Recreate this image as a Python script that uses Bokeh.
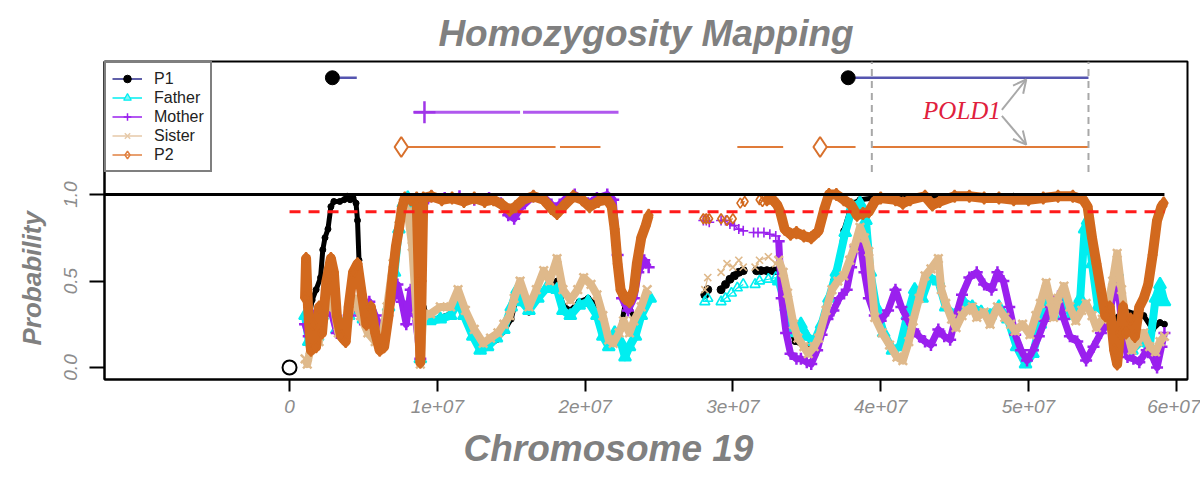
import numpy as np
from bokeh.plotting import figure
from bokeh.models import Range1d, FixedTicker, Label, Arrow, OpenHead, Legend, LegendItem, Title
from bokeh.embed import file_html
from bokeh.resources import INLINE

MB = 1e6

# ---------------- axes ----------------
x_tick_pos_mb = [0, 10, 20, 30, 40, 50, 60]
x_tick_labels = ["0", "1e+07", "2e+07", "3e+07", "4e+07", "5e+07", "6e+07"]
y_tick_pos = [0.0, 0.5, 1.0]
y_tick_labels = ["0.0", "0.5", "1.0"]

series_names = ["P1", "Father", "Mother", "Sister", "P2"]

# ---------------- P1 ----------------
p1_dense_pos = [1.05, 1.3, 1.53, 1.8, 2.1, 2.25, 2.4, 2.6, 2.8, 3.0, 3.4, 3.7, 3.9, 4.1, 4.3, 4.5, 4.6, 4.7, 4.9, 5.3,
                5.8, 6.3, 6.8, 7.3, 7.6, 7.9, 8.3, 8.6, 8.85, 9.05, 9.5, 10.2, 10.9, 11.4, 11.8, 12.4, 12.9, 13.4, 14.0,
                14.5, 15.0, 15.4, 15.7, 16.2, 16.8, 17.4, 18.1, 18.5, 19.0, 19.6, 20.2, 20.8, 21.2, 21.6, 22.0, 22.4,
                22.7, 23.0, 23.4, 23.8, 24.3, None,
                33.1, 33.6, 34.2, 35.0, 35.8, 36.4, 36.8, 37.2, 37.5, 37.9, 38.2, 38.6, 39.5, 41.0, 43.0, 45.0, 47.0,
                49.0, 51.0, 53.0, 53.8, 54.1, 54.4, 55.0, 55.8, 56.5, 57.2, 57.8, 58.4, 58.9, 59.2]
p1_dense_val = [0.30, 0.28, 0.39, 0.45, 0.52, 0.68, 0.75, 0.80, 0.93, 0.96, 0.96, 0.97, 0.99, 0.97, 0.98, 0.95, 0.85,
                0.62, 0.45, 0.30, 0.22, 0.18, 0.40, 0.70, 0.88, 0.95, 0.90, 0.60, 0.05, 0.35, 0.27, 0.29, 0.31, 0.40,
                0.31, 0.19, 0.10, 0.12, 0.16, 0.21, 0.28, 0.42, 0.46, 0.32, 0.40, 0.46, 0.50, 0.36, 0.33, 0.38, 0.40,
                0.36, 0.24, 0.14, 0.18, 0.22, 0.36, 0.34, 0.28, 0.32, 0.40, None,
                0.50, 0.30, 0.15, 0.12, 0.20, 0.38, 0.50, 0.62, 0.79, 0.90, 0.95, 0.97, 0.98, 0.98, 0.99, 0.99, 0.99,
                0.99, 0.99, 0.98, 0.97, 0.90, 0.55, 0.40, 0.28, 0.33, 0.31, 0.30, 0.22, 0.26, 0.25]
p1_sparse_pos = [28.1, 28.3, None, 29.2, 29.5, 29.8, 30.1, 30.4, 30.7, None, 31.6, 31.9, 32.3, 32.7, 33.0]
p1_sparse_val = [0.42, 0.45, None, 0.45, 0.48, 0.51, 0.53, 0.55, 0.56, None, 0.56, 0.56, 0.56, 0.56, 0.56]

# ---------------- Father ----------------
fa_dense_pos = [1.05, 1.3, 1.6, 1.9, 2.2, 2.5, 2.9, 3.2, 3.6, 4.0, 4.5, 5.0, 5.6, 6.2, 6.7, 7.1, 7.4, 7.7, 8.0, 8.4,
                8.7, 8.85, 9.0, 9.5, 10.2, 10.9, 11.4, 11.8, 12.4, 12.9, 13.4, 14.0, 14.5, 15.0, 15.4, 15.7, 16.2, 16.8,
                17.4, 18.1, 18.5, 19.0, 19.6, 20.2, 20.8, 21.2, 21.6, 22.0, 22.4, 22.7, 23.0, 23.4, 23.8, 24.4, None,
                33.1, 33.6, 34.1, 34.6, 35.0, 35.5, 36.0, 36.5, 37.0, 37.6, 38.1, 38.6, 39.0, 39.3, 39.7, 40.2, 40.8,
                41.3, 41.8, 42.3, 42.8, 43.3, 43.9, 44.4, 45.0, 45.6, 46.2, 46.8, 47.4, 48.0, 48.6, 49.2, 49.8, 50.3,
                50.8, 51.2, 51.7, 52.3, 52.9, 53.5, 53.8, 54.0, 54.3, 54.7, 55.3, 56.0, 56.5, 57.0, 57.6, 58.2, 58.6,
                58.9, 59.2]
fa_dense_val = [0.30, 0.15, 0.25, 0.18, 0.30, 0.35, 0.32, 0.22, 0.20, 0.30, 0.35, 0.28, 0.20, 0.18, 0.35, 0.55, 0.80,
                0.95, 0.98, 0.90, 0.40, 0.05, 0.30, 0.27, 0.28, 0.30, 0.38, 0.30, 0.18, 0.10, 0.12, 0.17, 0.22, 0.35,
                0.45, 0.38, 0.33, 0.40, 0.46, 0.45, 0.33, 0.30, 0.36, 0.38, 0.30, 0.18, 0.12, 0.20, 0.15, 0.06, 0.12,
                0.18, 0.30, 0.40, None,
                0.50, 0.35, 0.20, 0.25, 0.18, 0.15, 0.25, 0.40, 0.55, 0.78, 0.93, 0.95, 0.85, 0.55, 0.35, 0.20, 0.10,
                0.12, 0.30, 0.45, 0.40, 0.52, 0.50, 0.35, 0.30, 0.38, 0.35, 0.32, 0.30, 0.35, 0.28, 0.12, 0.02, 0.08,
                0.25, 0.40, 0.30, 0.42, 0.30, 0.40, 0.80, 0.85, 0.60, 0.35, 0.30, 0.55, 0.25, 0.10, 0.15, 0.12, 0.40,
                0.48, 0.38]
fa_sparse_pos = [28.1, 28.3, None, 29.2, 29.5, 29.9, 30.3, 30.7, None, 31.5, 31.8, 32.4, 32.9]
fa_sparse_val = [0.38, 0.40, None, 0.38, 0.40, 0.43, 0.46, 0.48, None, 0.48, 0.50, 0.51, 0.52]

# ---------------- Mother ----------------
mo_dense_pos = [1.05, 1.3, 1.6, 1.9, 2.2, 2.5, 2.9, 3.2, 3.6, 4.0, 4.5, 4.8, 5.1, 5.4, 5.8, 6.2, 6.6, 7.0, 7.3, 7.6,
                7.9, 8.2, 8.5, 8.85, 9.05, 9.6, 10.5, 11.5, 12.5, 13.5, 14.3, 14.8, 15.2, 15.6, 16.5, 17.4, 18.0, 18.6,
                19.3, 20.2, 20.8, 21.5, 21.9, 22.2, 22.5, 22.9, 23.3, 23.6, 24.0, 24.3, None,
                33.1, 33.3, 33.6, 33.9, 34.3, 34.6, 35.0, 35.3, 35.7, 36.0, 36.4, 36.8, 37.2, 37.7, 38.0, 38.3, 38.6,
                38.9, 39.2, 39.6, 40.0, 40.5, 41.0, 41.4, 41.8, 42.2, 42.6, 43.0, 43.4, 43.9, 44.3, 44.7, 45.1, 45.5,
                46.0, 46.5, 47.0, 47.5, 47.9, 48.3, 48.7, 49.1, 49.5, 49.9, 50.3, 50.7, 51.1, 51.5, 52.0, 52.4, 52.8,
                53.3, 53.9, 54.4, 54.9, 55.3, 55.7, 56.0, 56.3, 56.7, 57.1, 57.5, 58.0, 58.4, 58.7, 59.0, 59.2]
mo_dense_val = [0.25, 0.18, 0.30, 0.20, 0.35, 0.40, 0.30, 0.20, 0.18, 0.30, 0.38, 0.30, 0.25, 0.38, 0.30, 0.22, 0.30,
                0.40, 0.48, 0.38, 0.25, 0.45, 0.30, 0.05, 0.95, 0.99, 0.98, 0.99, 0.97, 0.98, 0.95, 0.88, 0.86, 0.92,
                0.99, 0.97, 0.92, 0.97, 1.00, 0.95, 0.98, 1.00, 0.97, 0.65, 0.40, 0.33, 0.40, 0.55, 0.62, 0.58, None,
                0.73, 0.40, 0.20, 0.08, 0.05, 0.05, 0.03, 0.02, 0.10, 0.19, 0.28, 0.33, 0.40, 0.45, 0.58, 0.70, 0.73,
                0.55, 0.40, 0.30, 0.27, 0.33, 0.45, 0.35, 0.28, 0.22, 0.18, 0.15, 0.13, 0.22, 0.18, 0.16, 0.30, 0.42,
                0.52, 0.55, 0.48, 0.45, 0.55, 0.50, 0.35, 0.19, 0.10, 0.04, 0.10, 0.18, 0.27, 0.35, 0.41, 0.28, 0.18,
                0.15, 0.04, 0.12, 0.20, 0.25, 0.40, 0.53, 0.25, 0.06, 0.05, 0.03, 0.10, 0.06, 0.00, 0.12, 0.20]
mo_sparse_pos = [28.0, 28.2, 28.4, None, 29.2, 29.5, 29.8, 30.1, 30.4, 30.7, None, 31.4, 31.7, 32.1, 32.5, 32.9]
mo_sparse_val = [0.85, 0.85, 0.84, None, 0.85, 0.85, 0.83, 0.82, 0.80, 0.79, None, 0.78, 0.78, 0.78, 0.77, 0.76]

# ---------------- Sister ----------------
si_dense_pos = [1.05, 1.2, 1.4, 1.7, 2.0, 2.3, 2.7, 3.0, 3.3, 3.7, 4.0, 4.4, 4.8, 5.3, 5.8, 6.2, 6.6, 7.0, 7.4, 7.7,
                8.0, 8.3, 8.6, 8.85, 9.05, 9.54, 10.2, 10.9, 11.4, 11.9, 12.5, 13.1, 13.6, 14.1, 14.5, 14.9, 15.2, 15.6,
                16.2, 16.7, 17.2, 17.6, 18.1, 18.5, 19.0, 19.5, 19.9, 20.4, 20.8, 21.2, 21.6, 21.9, 22.3, 22.6, 23.0,
                23.3, 23.8, 24.2, None,
                33.1, 33.4, 33.7, 34.1, 34.4, 34.8, 35.1, 35.5, 35.8, 36.3, 36.7, 37.1, 37.5, 37.9, 38.2, 38.6, 38.9,
                39.2, 39.6, 40.1, 40.6, 41.1, 41.5, 41.9, 42.2, 42.6, 43.0, 43.4, 43.9, 44.1, 44.4, 44.8, 45.1, 45.5,
                45.8, 46.2, 46.5, 47.0, 47.4, 47.9, 48.4, 48.8, 49.1, 49.6, 50.1, 50.5, 50.8, 51.2, 51.5, 51.7, 52.0,
                52.4, 52.8, 53.2, 53.6, 53.9, 54.3, 54.6, 55.0, 55.3, 55.7, 56.0, 56.3, 56.7, 57.0, 57.4, 57.8, 58.2,
                58.6, 58.9, 59.2]
si_dense_val = [0.05, 0.02, 0.10, 0.25, 0.15, 0.30, 0.40, 0.35, 0.20, 0.18, 0.30, 0.40, 0.30, 0.20, 0.15, 0.15, 0.35,
                0.60, 0.82, 0.95, 0.90, 0.70, 0.30, 0.02, 0.30, 0.31, 0.35, 0.35, 0.45, 0.33, 0.22, 0.14, 0.17, 0.20,
                0.25, 0.30, 0.40, 0.50, 0.35, 0.45, 0.56, 0.50, 0.63, 0.45, 0.39, 0.45, 0.52, 0.48, 0.42, 0.30, 0.16,
                0.14, 0.20, 0.27, 0.20, 0.27, 0.35, 0.45, None,
                0.62, 0.55, 0.43, 0.25, 0.17, 0.12, 0.08, 0.12, 0.17, 0.33, 0.45, 0.50, 0.53, 0.62, 0.69, 0.81, 0.75,
                0.67, 0.29, 0.20, 0.13, 0.06, 0.04, 0.15, 0.27, 0.40, 0.53, 0.57, 0.63, 0.45, 0.37, 0.28, 0.23, 0.30,
                0.33, 0.35, 0.29, 0.32, 0.25, 0.35, 0.29, 0.25, 0.21, 0.25, 0.19, 0.30, 0.37, 0.49, 0.38, 0.29, 0.40,
                0.47, 0.35, 0.27, 0.33, 0.37, 0.30, 0.23, 0.28, 0.33, 0.50, 0.66, 0.45, 0.20, 0.10, 0.15, 0.20, 0.12,
                0.09, 0.15, 0.18]
si_sparse_pos = [28.1, 28.3, None, 29.2, 29.6, 30.0, 30.4, 30.7, None, 31.5, 31.8, 32.4, 32.9]
si_sparse_val = [0.45, 0.52, None, 0.55, 0.60, 0.58, 0.62, 0.58, None, 0.58, 0.62, 0.64, 0.60]

# ---------------- P2 ----------------
p2_dense_pos = [1.05, 1.12, 1.25, 1.45, 1.6, 1.8, 2.0, 2.2, 2.5, 2.8, 3.0, 3.2, 3.5, 3.8, 4.0, 4.3, 4.6, 4.9, 5.2, 5.5,
                5.8, 6.1, 6.4, 6.7, 7.0, 7.2, 7.4, 7.6, 7.8, 8.2, 8.6, 8.75, 8.85, 8.95, 9.05, 9.6, 10.3, 11.0, 11.8,
                12.5, 13.2, 13.8, 14.4, 14.9, 15.3, 15.8, 16.5, 17.2, 17.7, 18.1, 18.5, 19.2, 19.8, 20.3, 20.9, 21.5,
                21.8, 22.0, 22.2, 22.4, 22.7, 23.0, 23.3, 23.5, 23.8, 24.1, 24.3, None,
                32.3, 32.7, 33.0, 33.2, 33.5, 33.9, 34.3, 34.8, 35.3, 35.8, 36.2, 36.5, 37.0, 37.5, 38.0, 38.4, 38.8,
                39.2, 39.6, 40.0, 41.0, 41.5, 42.0, 43.0, 43.5, 44.0, 45.0, 46.0, 47.0, 48.0, 49.0, 50.0, 51.0, 52.0,
                53.0, 53.7, 54.0, 54.3, 54.6, 54.9, 55.2, 55.5, 55.8, 56.0, 56.2, 56.4, 56.6, 56.9, 57.2, 57.5, 57.8,
                58.1, 58.4, 58.7, 59.0, 59.15]
p2_dense_val = [0.40, 0.63, 0.35, 0.10, 0.25, 0.12, 0.35, 0.20, 0.50, 0.63, 0.55, 0.30, 0.18, 0.15, 0.35, 0.55, 0.60,
                0.42, 0.25, 0.35, 0.20, 0.10, 0.12, 0.30, 0.55, 0.70, 0.80, 0.92, 0.98, 0.97, 0.98, 0.50, 0.03, 0.50,
                0.98, 0.99, 0.97, 0.98, 0.96, 0.98, 0.96, 0.97, 0.94, 0.91, 0.93, 0.97, 0.99, 0.97, 0.92, 0.89, 0.93,
                0.99, 0.97, 0.93, 0.96, 0.97, 0.93, 0.80, 0.60, 0.45, 0.40, 0.38, 0.45, 0.60, 0.75, 0.82, 0.88, None,
                0.97, 0.97, 0.94, 0.90, 0.80, 0.77, 0.78, 0.76, 0.75, 0.79, 0.92, 1.00, 1.00, 0.97, 0.94, 0.88, 0.89,
                0.90, 0.96, 0.98, 0.97, 0.95, 0.97, 0.99, 0.94, 0.96, 0.99, 0.99, 0.98, 0.98, 0.97, 0.97, 0.98, 0.99,
                0.99, 0.97, 0.93, 0.75, 0.60, 0.45, 0.30, 0.35, 0.10, 0.02, 0.20, 0.35, 0.20, 0.28, 0.18, 0.35, 0.40,
                0.48, 0.65, 0.85, 0.93, 0.95]
p2_sparse_pos = [28.0, 28.2, 28.4, None, 29.2, 29.6, 30.0, None, 30.5, 30.8, None, 31.8, 32.0]
p2_sparse_val = [0.86, 0.86, 0.86, None, 0.86, 0.85, 0.86, None, 0.95, 0.96, None, 0.97, 0.96]

# ---------------- homozygous regions (top tracks) ----------------
track_level = {"P1": 1.675, "Mother": 1.475, "P2": 1.275}
p1_reg_start = [2.9, 37.8]
p1_reg_end = [4.55, 54.06]
mo_reg_start = [8.4, 15.8]
mo_reg_end = [15.6, 22.26]
mo_reg_mark = [9.13]
p2_reg_start = [7.56, 18.3, 30.3, 35.9, 39.4]
p2_reg_end = [18.0, 21.04, 33.4, 38.3, 54.06]
p2_reg_mark = [7.56, 35.9]
gene_bounds = [39.4, 54.06]
gene_name = "POLD1"

threshold_hi = 1.0
threshold_lo = 0.9
chrom_end = 59.2
origin_pt = (0.0, 0.0)


def arr(lst, scale=1.0):
    return np.array([np.nan if v is None else v * scale for v in lst], dtype=float)


X0, X1 = -12.52e6, 60.76e6
Y0, Y1 = -0.0694, 1.769

p = figure(width=1200, height=482, output_backend="svg", toolbar_location=None,
           x_range=Range1d(X0, X1), y_range=Range1d(Y0, Y1), title=None,
           min_border_left=104, min_border_right=13, min_border_top=61, min_border_bottom=103)
p.grid.visible = False
p.outline_line_color = "black"
p.outline_line_width = 2
p.background_fill_color = "white"
p.border_fill_color = "white"

# axes
p.xaxis.ticker = FixedTicker(ticks=[t * MB for t in x_tick_pos_mb])
p.xaxis.major_label_overrides = {int(t * MB): lab for t, lab in zip(x_tick_pos_mb, x_tick_labels)}
p.yaxis.ticker = FixedTicker(ticks=y_tick_pos)
p.yaxis.major_label_overrides = {t: lab for t, lab in zip(y_tick_pos, y_tick_labels)}
p.yaxis.major_label_orientation = "vertical"
for ax in (p.xaxis[0], p.yaxis[0]):
    ax.axis_line_width = 2
    ax.axis_line_color = "black"
    ax.major_tick_line_width = 2
    ax.major_tick_line_color = "black"
    ax.major_tick_in = 0
    ax.minor_tick_line_color = None
    ax.major_label_text_font = "Liberation Sans"
    ax.major_label_text_font_style = "italic"
    ax.major_label_text_font_size = "19px"
    ax.major_label_text_color = "#8c8c8c"
p.xaxis.major_tick_out = 12
p.xaxis.major_label_standoff = 8
p.yaxis.major_tick_out = 15
p.yaxis.major_label_standoff = 12

colors = {"P1": "#000000", "Father": "#00eef0", "Mother": "#9a20ee", "Sister": "#dfb98b", "P2": "#d2691e"}

dense = {
    "P1": (p1_dense_pos, p1_dense_val, 5),
    "Father": (fa_dense_pos, fa_dense_val, 8),
    "Mother": (mo_dense_pos, mo_dense_val, 7),
    "Sister": (si_dense_pos, si_dense_val, 8),
    "P2": (p2_dense_pos, p2_dense_val, 10),
}
sparse = {
    "P1": (p1_sparse_pos, p1_sparse_val),
    "Father": (fa_sparse_pos, fa_sparse_val),
    "Mother": (mo_sparse_pos, mo_sparse_val),
    "Sister": (si_sparse_pos, si_sparse_val),
    "P2": (p2_sparse_pos, p2_sparse_val),
}
marker_of = {"P1": "circle", "Father": "triangle", "Mother": "cross", "Sister": "x", "P2": "diamond"}

for name in series_names:
    c = colors[name]
    pos, val, lw = dense[name]
    xs, ys = arr(pos, MB), arr(val)
    p.line(xs, ys, line_color=c, line_width=lw, line_join="round")
    if name == "P1":
        p.scatter(xs, ys, marker="circle", size=6, fill_color=c, line_color=c)
    elif name in ("Mother", "Sister"):
        p.scatter(xs, ys, marker=marker_of[name], size=12, line_color=c, line_width=2.5)
    else:
        p.scatter(xs, ys, marker=marker_of[name], size=12, fill_color=c, line_color=c, line_width=2)
    spos, sval = sparse[name]
    sx, sy = arr(spos, MB), arr(sval)
    p.line(sx, sy, line_color=c, line_width=1.2)
    if name == "P1":
        p.scatter(sx, sy, marker="circle", size=8, fill_color=c, line_color=c)
    else:
        p.scatter(sx, sy, marker=marker_of[name], size=10, fill_color=None, line_color=c, line_width=1.6)

# thresholds
p.line([X0, chrom_end * MB], [threshold_hi, threshold_hi], line_color="black", line_width=3)
p.line([0, chrom_end * MB], [threshold_lo, threshold_lo], line_color="#ff1a1a", line_width=3, line_dash="11 8")

# origin marker
p.scatter([origin_pt[0]], [origin_pt[1]], marker="circle", size=14, fill_color="white",
          line_color="black", line_width=2)

# top tracks
lv = track_level["P1"]
p.segment(arr(p1_reg_start, MB), [lv] * len(p1_reg_start), arr(p1_reg_end, MB), [lv] * len(p1_reg_end),
          line_color="#5555b0", line_width=2.5)
p.scatter(arr(p1_reg_start, MB), [lv] * len(p1_reg_start), marker="circle", size=14,
          fill_color="black", line_color="black")
lv = track_level["Mother"]
p.segment(arr(mo_reg_start, MB), [lv] * len(mo_reg_start), arr(mo_reg_end, MB), [lv] * len(mo_reg_end),
          line_color="#b058ee", line_width=3)
p.scatter(arr(mo_reg_mark, MB), [lv] * len(mo_reg_mark), marker="cross", size=22,
          line_color="#a035e8", line_width=2.5)
lv = track_level["P2"]
p.segment(arr(p2_reg_start, MB), [lv] * len(p2_reg_start), arr(p2_reg_end, MB), [lv] * len(p2_reg_end),
          line_color="#e07b39", line_width=2)
p.scatter(arr(p2_reg_mark, MB), [lv] * len(p2_reg_mark), marker="diamond", size=20, fill_color="white",
          line_color="#d8702c", line_width=2)

# gene boundaries
gx = arr(gene_bounds, MB)
p.segment(gx, [1.13] * len(gx), gx, [Y1] * len(gx), line_color="#a8a8a8", line_width=2, line_dash="7 5")

p.add_layout(Label(x=45.5e6, y=1.486, text=gene_name, text_font="Liberation Serif",
                   text_font_style="italic", text_font_size="25px", text_color="#e0203c",
                   text_align="center", text_baseline="middle"))
p.add_layout(Arrow(end=OpenHead(size=13, line_color="#a8a8a8", line_width=2),
                   x_start=48.2e6, y_start=1.49, x_end=49.85e6, y_end=1.665,
                   line_color="#a8a8a8", line_width=2))
p.add_layout(Arrow(end=OpenHead(size=13, line_color="#a8a8a8", line_width=2),
                   x_start=48.2e6, y_start=1.455, x_end=49.85e6, y_end=1.288,
                   line_color="#a8a8a8", line_width=2))

# titles (outside the frame)
p.add_layout(Title(text="Homozygosity Mapping", align="center", text_font="Liberation Sans",
                   text_font_style="bold italic", text_font_size="37px", text_color="#808080",
                   standoff=15), "above")
p.add_layout(Title(text="Chromosome 19", align="left", offset=359, text_font="Liberation Sans",
                   text_font_style="bold italic", text_font_size="37px", text_color="#808080",
                   standoff=21), "below")
p.add_layout(Title(text="Probability", align="left", offset=34, text_font="Liberation Sans",
                   text_font_style="bold italic", text_font_size="26px", text_color="#808080",
                   standoff=29), "left")

# legend
legend_line_colors = {"P1": "#2b2b8c", "Father": "#00eef0", "Mother": "#9a20ee", "Sister": "#e6c9a8",
                      "P2": "#e08040"}
items = []
for name in series_names:
    lr = p.line([np.nan], [np.nan], line_color=legend_line_colors[name], line_width=1.5)
    if name == "P1":
        sr = p.scatter([np.nan], [np.nan], marker="circle", size=7, fill_color="black", line_color="black")
    elif name == "Father":
        sr = p.scatter([np.nan], [np.nan], marker="triangle", size=8, fill_color="#7ff5f5",
                       line_color="#00eef0", line_width=1.2)
    else:
        sr = p.scatter([np.nan], [np.nan], marker=marker_of[name], size=8, fill_color=None,
                       line_color=legend_line_colors[name], line_width=1.5)
    items.append(LegendItem(label=name, renderers=[lr, sr]))
legend = Legend(items=items, location="top_left", margin=0, padding=6, spacing=0,
                label_height=19, glyph_height=19, glyph_width=30, label_standoff=12,
                label_text_font="Liberation Sans", label_text_font_size="16px", label_text_color="#222222",
                border_line_color="black", border_line_width=2, background_fill_color="white",
                background_fill_alpha=1.0)
p.add_layout(legend)

open("out.html", "w").write(file_html(p, INLINE))
